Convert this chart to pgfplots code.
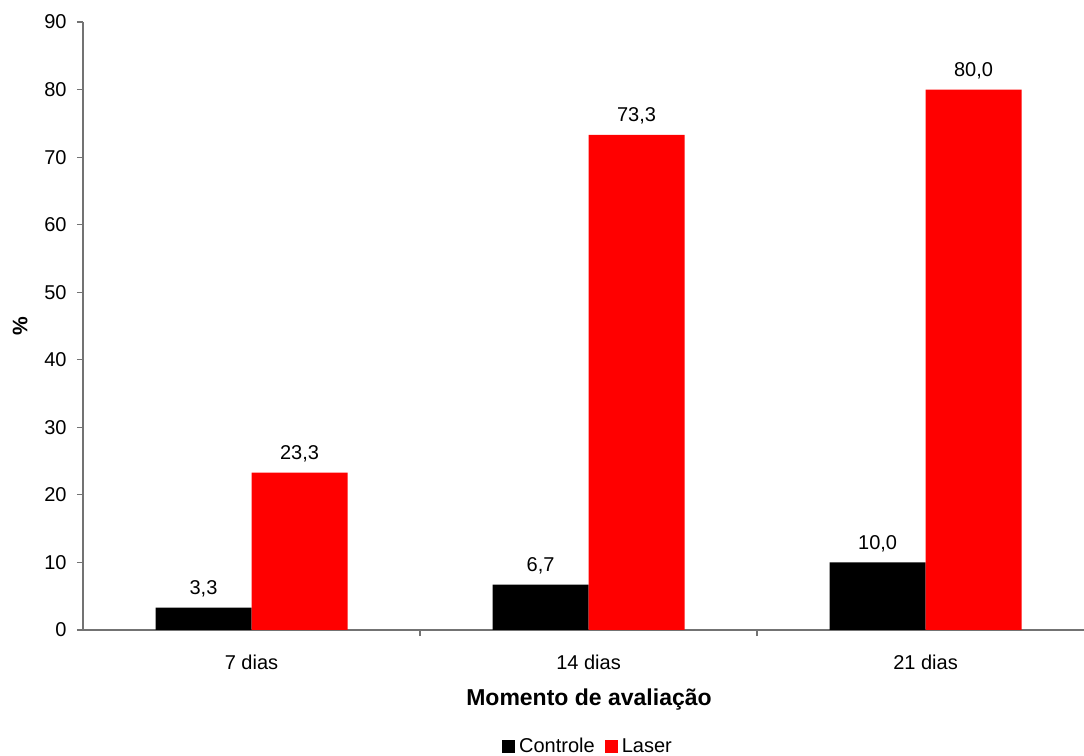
\documentclass[border=0pt]{standalone}
\usepackage{fontspec}
\setmainfont{Liberation Sans}
\usepackage{pgfplots}
\pgfplotsset{compat=1.18}
\begin{document}
\begin{tikzpicture}
\begin{axis}[
  at={(0,0)}, anchor=south west,
  scale only axis,
  width=500.5pt, height=304pt,
  ybar=0pt, bar width=48pt,
  xmin=-0.5, xmax=2.470,
  ymin=0, ymax=90,
  ytick={0,10,...,90},
  xtick={0.5,1.5},
  xticklabels={},
  extra x ticks={0,1,2},
  extra x tick labels={7 dias,14 dias,21 dias},
  extra x tick style={major tick length=0pt, grid=none},
  axis x line*=bottom, axis y line*=left,
  axis line style={draw=gray!90!black, line width=0.6pt},
  tick style={draw=gray!90!black, line width=0.6pt},
  tick align=outside,
  major tick length=3pt,
  /pgf/number format/assume math mode=true,
  tick label style={font=\fontsize{10}{12}\selectfont},
  yticklabel style={anchor=east, inner sep=0pt, xshift=-5pt},
  xticklabel style={anchor=center, inner sep=0pt, yshift=-16pt},
  xlabel={\textbf{Momento de avaliação}},
  xlabel style={at={(axis description cs:0.5055,-0.1151)}, anchor=center, font=\fontsize{11.5}{13}\selectfont},
  ylabel={\textbf{\%}},
  ylabel style={at={(axis description cs:-0.0629,0.5)}, anchor=center, font=\fontsize{10.5}{12}\selectfont},
  nodes near coords,
  nodes near coords style={font=\fontsize{10}{12}\selectfont, anchor=south, inner sep=0pt, yshift=5pt, text=black,
    /pgf/number format/.cd, fixed, fixed zerofill, precision=1, use comma, assume math mode=true},
  legend style={at={(axis description cs:0.5055,-0.192)}, anchor=center, draw=none, fill=none,
    legend columns=2, font=\fontsize{10}{12}\selectfont,
    /tikz/every even column/.append style={column sep=3pt}},
  legend image code/.code={\fill[#1] (0pt,-3.25pt) rectangle (6.5pt,3.25pt);},
  legend cell align=left,
]
\addplot[fill=black, draw=none] coordinates {(0,3.3) (1,6.7) (2,10.0)};
\addplot[fill=red, draw=none] coordinates {(0,23.3) (1,73.3) (2,80.0)};
\legend{Controle,Laser}
\end{axis}
\pgfresetboundingbox
\useasboundingbox (-41.5pt,-63pt) rectangle (500.5pt,315pt);
\end{tikzpicture}
\end{document}
